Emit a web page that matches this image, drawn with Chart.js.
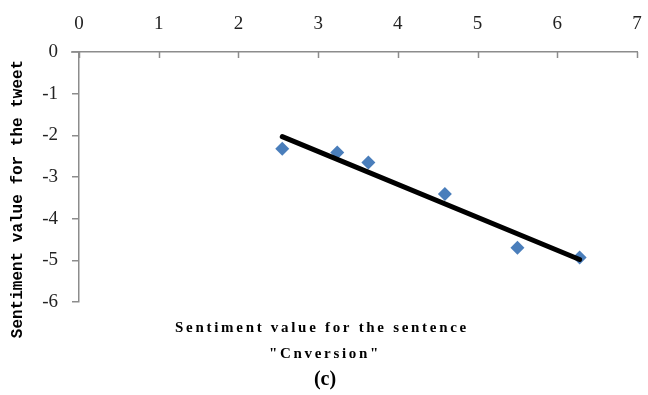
<html>
  <head>
    <title>sentiment scatter (c)</title>
    <style>
      body {
        margin: 0;
        padding: 0;
        background: #fff;
      }
      #wrap {
        width: 648px;
        height: 395px;
      }
    </style>
    <script src="https://cdn.jsdelivr.net/npm/chart.js@4.4.0/dist/chart.umd.min.js"></script>
  </head>
  <body>
    <div id="wrap"><canvas id="canvas"></canvas></div>
    <script>
      // values
      const xValues = [2.55, 3.24, 3.63, 4.59, 5.5, 6.28];
      const yValues = [-2.32, -2.41, -2.65, -3.41, -4.7, -4.93];
      // linear trend line, end points
      const trendX = [2.55, 6.28];
      const trendY = [-2.03, -4.98];

      const xTitle = 'Sentiment value for the sentence';
      const xTitle2 = '"Cnversion"';
      const yTitle = 'Sentiment value for the tweet';
      const caption = '(c)';

      const axisGray = '#8c8c8c';
      const tickFont = { family: 'Liberation Serif', size: 19 };

      const points = xValues.map((x, i) => ({ x: x, y: yValues[i] }));
      const trend = trendX.map((x, i) => ({ x: x, y: trendY[i] }));

      // x ticks hang below the top axis line, plus the titles
      const extras = {
        id: 'extras',
        afterDraw(chart) {
          const ctx = chart.ctx;
          const xs = chart.scales.x;
          const top = chart.chartArea.top;
          const left = chart.chartArea.left;
          ctx.save();
          ctx.strokeStyle = axisGray;
          ctx.lineWidth = 1.5;
          xs.ticks.forEach((t) => {
            const px = Math.round(xs.getPixelForValue(t.value)) + 0.5;
            ctx.beginPath();
            ctx.moveTo(px, top);
            ctx.lineTo(px, top + 6);
            ctx.stroke();
          });
          // horizontal axis runs a bit past the vertical one
          ctx.beginPath();
          ctx.moveTo(left - 8, top);
          ctx.lineTo(left, top);
          ctx.stroke();

          ctx.fillStyle = '#000';
          ctx.textAlign = 'center';
          ctx.textBaseline = 'middle';

          ctx.font = 'bold 15px "Liberation Serif"';
          ctx.letterSpacing = '2.7px';
          ctx.fillText(xTitle, 322, 328);
          ctx.fillText(xTitle2, 325, 354);

          ctx.letterSpacing = '0px';
          ctx.font = 'bold 20px "Liberation Serif"';
          ctx.fillText(caption, 325, 380);

          ctx.translate(18, 199);
          ctx.rotate(-Math.PI / 2);
          ctx.font = 'bold 16px "Liberation Mono"';
          ctx.fillText(yTitle, 0, 0);
          ctx.restore();
        },
      };

      new Chart(document.getElementById('canvas'), {
        type: 'scatter',
        data: {
          datasets: [
            {
              type: 'line',
              label: 'trend',
              data: trend,
              borderColor: '#000',
              borderWidth: 5,
              borderCapStyle: 'round',
              pointRadius: 0,
              fill: false,
              order: 0,
            },
            {
              label: 'points',
              data: points,
              pointStyle: 'rectRot',
              pointRadius: 7,
              backgroundColor: '#4a7ebb',
              borderColor: '#4a7ebb',
              borderWidth: 0,
              order: 1,
            },
          ],
        },
        options: {
          responsive: true,
          maintainAspectRatio: false,
          animation: false,
          layout: { padding: { left: 0, right: 0, top: 10, bottom: 93 } },
          plugins: {
            legend: { display: false },
            tooltip: { enabled: false },
          },
          scales: {
            x: {
              type: 'linear',
              position: 'top',
              min: 0,
              max: 7,
              ticks: { stepSize: 1, font: tickFont, color: '#222', padding: 17 },
              grid: { drawOnChartArea: false, drawTicks: false },
              border: { color: axisGray, width: 1.5 },
              afterFit: (s) => {
                s.height = 42;
                s.paddingRight = 11;
              },
            },
            y: {
              min: -6,
              max: 0,
              ticks: { stepSize: 1, font: tickFont, color: '#222', padding: 14 },
              grid: { drawOnChartArea: false, tickLength: 7, color: axisGray, lineWidth: 1.5 },
              border: { color: axisGray, width: 1.5 },
              afterFit: (s) => {
                s.width = 79;
              },
            },
          },
        },
        plugins: [extras],
      });
    </script>
  </body>
</html>
